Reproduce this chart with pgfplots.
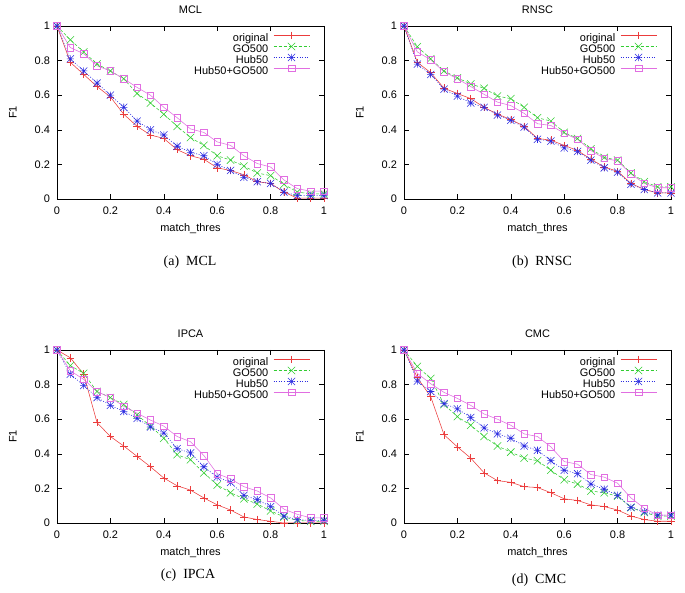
\documentclass[border=0pt]{standalone}
\usepackage{fontspec}
\setmainfont{Liberation Serif}
\newfontfamily\gpfont{Liberation Sans}
\usepackage{pgfplots}
\usepackage{pgfplotstable}
\pgfplotsset{compat=1.18}

\definecolor{gpred}{RGB}{235,60,60}
\definecolor{gpgreen}{RGB}{50,205,50}
\definecolor{gpblue}{RGB}{45,45,225}
\definecolor{gpmag}{RGB}{225,110,225}

\pgfdeclareplotmark{gpstar}{%
  \pgfpathmoveto{\pgfqpoint{-\pgfplotmarksize}{0pt}}\pgfpathlineto{\pgfqpoint{\pgfplotmarksize}{0pt}}%
  \pgfpathmoveto{\pgfqpoint{0pt}{-\pgfplotmarksize}}\pgfpathlineto{\pgfqpoint{0pt}{\pgfplotmarksize}}%
  \pgfpathmoveto{\pgfqpoint{-\pgfplotmarksize}{-\pgfplotmarksize}}\pgfpathlineto{\pgfqpoint{\pgfplotmarksize}{\pgfplotmarksize}}%
  \pgfpathmoveto{\pgfqpoint{-\pgfplotmarksize}{\pgfplotmarksize}}\pgfpathlineto{\pgfqpoint{\pgfplotmarksize}{-\pgfplotmarksize}}%
  \pgfusepathqstroke}

\pgfplotstableread{
x    orig  go    hub   both
0    1     1     1     1
0.05 0.79  0.92  0.81  0.875
0.10 0.72  0.85  0.74  0.84
0.15 0.65  0.78  0.67  0.77
0.20 0.59  0.74  0.60  0.74
0.25 0.49  0.695 0.53  0.695
0.30 0.42  0.61  0.45  0.645
0.35 0.37  0.555 0.40  0.60
0.40 0.35  0.49  0.37  0.53
0.45 0.285 0.42  0.305 0.47
0.50 0.25  0.355 0.27  0.405
0.55 0.23  0.31  0.25  0.385
0.60 0.18  0.25  0.20  0.33
0.65 0.165 0.225 0.165 0.31
0.70 0.14  0.19  0.125 0.25
0.75 0.10  0.15  0.10  0.205
0.80 0.09  0.135 0.09  0.185
0.85 0.04  0.085 0.04  0.11
0.90 0.005 0.04  0.02  0.06
0.95 0.005 0.03  0.02  0.045
1.00 0.005 0.03  0.02  0.045
}\mcl

\pgfplotstableread{
x    orig  go    hub   both
0    1     1     1     1
0.05 0.79  0.88  0.78  0.85
0.10 0.73  0.81  0.72  0.805
0.15 0.64  0.74  0.635 0.735
0.20 0.61  0.70  0.595 0.695
0.25 0.58  0.665 0.555 0.65
0.30 0.53  0.64  0.53  0.605
0.35 0.49  0.595 0.485 0.56
0.40 0.46  0.58  0.455 0.54
0.45 0.42  0.53  0.415 0.495
0.50 0.35  0.47  0.345 0.435
0.55 0.34  0.45  0.335 0.425
0.60 0.31  0.385 0.295 0.38
0.65 0.28  0.35  0.275 0.345
0.70 0.23  0.29  0.225 0.28
0.75 0.185 0.24  0.18  0.235
0.80 0.16  0.225 0.155 0.22
0.85 0.09  0.15  0.085 0.145
0.90 0.055 0.10  0.055 0.09
0.95 0.035 0.07  0.035 0.065
1.00 0.035 0.07  0.035 0.065
}\rnsc

\pgfplotstableread{
x    orig  go    hub   both
0    1     1     1     1
0.05 0.955 0.91  0.86  0.88
0.10 0.86  0.865 0.795 0.83
0.15 0.58  0.76  0.725 0.76
0.20 0.50  0.725 0.68  0.725
0.25 0.445 0.685 0.645 0.675
0.30 0.385 0.625 0.605 0.635
0.35 0.325 0.56  0.555 0.595
0.40 0.26  0.49  0.52  0.56
0.45 0.215 0.395 0.43  0.50
0.50 0.19  0.365 0.405 0.47
0.55 0.145 0.29  0.325 0.39
0.60 0.105 0.22  0.265 0.285
0.65 0.075 0.175 0.235 0.255
0.70 0.035 0.14  0.16  0.21
0.75 0.02  0.11  0.135 0.185
0.80 0.01  0.07  0.095 0.145
0.85 0.0   0.035 0.04  0.08
0.90 0.0   0.015 0.02  0.05
0.95 0.0   0.01  0.015 0.03
1.00 0.0   0.01  0.015 0.03
}\ipca

\pgfplotstableread{
x    orig  go    hub   both
0    1     1     1     1
0.05 0.84  0.905 0.82  0.865
0.10 0.73  0.835 0.76  0.805
0.15 0.51  0.685 0.69  0.755
0.20 0.44  0.615 0.66  0.72
0.25 0.375 0.565 0.61  0.68
0.30 0.29  0.50  0.55  0.63
0.35 0.245 0.445 0.515 0.60
0.40 0.235 0.41  0.49  0.565
0.45 0.21  0.375 0.445 0.515
0.50 0.205 0.36  0.42  0.50
0.55 0.175 0.305 0.36  0.44
0.60 0.14  0.25  0.305 0.355
0.65 0.13  0.225 0.285 0.34
0.70 0.105 0.185 0.225 0.28
0.75 0.095 0.175 0.195 0.265
0.80 0.075 0.155 0.16  0.23
0.85 0.04  0.09  0.09  0.145
0.90 0.02  0.06  0.065 0.085
0.95 0.01  0.04  0.045 0.045
1.00 0.01  0.04  0.045 0.045
}\cmc

\pgfplotsset{
  gpaxis/.style={
    scale only axis, width=267bp, height=173bp,
    xmin=0, xmax=1, ymin=0, ymax=1,
    xtick={0,0.2,0.4,0.6,0.8,1}, ytick={0,0.2,0.4,0.6,0.8,1},
    tick align=inside, major tick length=5bp,
    axis line style={line width=0.5bp},
    every tick/.style={black, line width=0.5bp},
    font=\gpfont\fontsize{11}{13}\selectfont,
    /pgf/number format/assume math mode=true,
    ticklabel style={font=\gpfont\fontsize{11}{13}\selectfont},
    yticklabel style={xshift=-3.5bp},
    xticklabel style={yshift=-4.5bp},
    xlabel={match\_thres}, ylabel={F1},
    xlabel style={at={(axis description cs:0.5,-0.17)}, anchor=center},
    ylabel style={at={(axis description cs:-0.165,0.5)}, anchor=center},
    title style={at={(axis description cs:0.5,1.06)}, anchor=center, font=\gpfont\fontsize{11}{13}\selectfont},
    legend style={at={(axis description cs:1,1)}, anchor=north east,
      xshift=-14bp, yshift=-5.5bp, draw=none, fill=none, inner sep=0pt,
      font=\gpfont\fontsize{11}{13}\selectfont,
      nodes={inner sep=0pt, text height=7.8bp, text depth=2.5bp},
      row sep=-1.4bp},
    legend cell align=right, legend plot pos=right,
    legend image code/.code={%
      \path (0bp,0bp) (0bp,3.6bp);
      \draw[mark repeat=2,mark phase=2,##1] plot coordinates {(5bp,3.6bp) (23bp,3.6bp) (41bp,3.6bp)};},
  },
  sorig/.style={color=gpred, line width=0.55bp, mark=+, mark size=3.8bp, mark options={solid}},
  sgo/.style={color=gpgreen, line width=0.55bp, dash pattern=on 3bp off 2bp, mark=x, mark size=5.2bp, mark options={solid}},
  shub/.style={color=gpblue, line width=0.55bp, dash pattern=on 1bp off 1.6bp, mark=gpstar, mark size=3.6bp, mark options={solid}},
  sboth/.style={color=gpmag, line width=0.55bp, mark=square, mark size=3.3bp, mark options={solid}},
}

\newcommand{\fourplots}[1]{%
  \addplot[sorig] table[x=x,y=orig] {#1};
  \addplot[sgo] table[x=x,y=go] {#1};
  \addplot[shub] table[x=x,y=hub] {#1};
  \addplot[sboth] table[x=x,y=both] {#1};
  \legend{original,GO500,Hub50,Hub50+GO500}
}

\begin{document}
\begin{tikzpicture}
\useasboundingbox (0,0) rectangle (685bp,593bp);

\begin{axis}[gpaxis, at={(57bp,394bp)}, anchor=south west, title={MCL}]
\fourplots{\mcl}
\end{axis}

\begin{axis}[gpaxis, at={(404bp,394bp)}, anchor=south west, title={RNSC}]
\fourplots{\rnsc}
\end{axis}

\begin{axis}[gpaxis, at={(57bp,70bp)}, anchor=south west, title={IPCA}]
\fourplots{\ipca}
\end{axis}

\begin{axis}[gpaxis, at={(404bp,70bp)}, anchor=south west, title={CMC}]
\fourplots{\cmc}
\end{axis}

\node[font=\fontsize{14}{16}\selectfont] at (190bp,331bp) {(a)\ \ MCL};
\node[font=\fontsize{14}{16}\selectfont] at (542bp,331bp) {(b)\ \ RNSC};
\node[font=\fontsize{14}{16}\selectfont] at (188bp,18bp) {(c)\ \ IPCA};
\node[font=\fontsize{14}{16}\selectfont] at (539bp,13bp) {(d)\ \ CMC};
\end{tikzpicture}
\end{document}
